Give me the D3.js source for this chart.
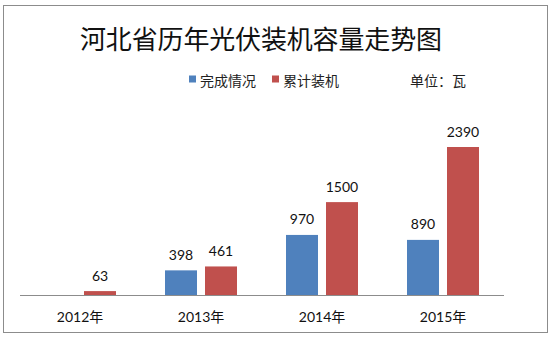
<!DOCTYPE html>
<html><head><meta charset="utf-8">
<script src="https://cdn.jsdelivr.net/npm/d3@7"></script>
<style>body{margin:0;background:#fff}svg{display:block}</style>
</head><body><svg id="c" width="551" height="341"></svg>
<script>
const years = ["2012年","2013年","2014年","2015年"];
const seriesNames = ["完成情况","累计装机"];
const completed = [null, 398, 970, 890];
const cumulative = [63, 461, 1500, 2390];
const colors = ["#4F81BD","#C0504D"];
const title = "河北省历年光伏装机容量走势图";
const unitText = "单位：瓦";

const svg = d3.select("#c");
const cjk = "'Noto Sans CJK SC','Noto Sans',sans-serif";
const num = "Lato,'Noto Sans CJK SC',sans-serif";

svg.append("rect").attr("x",3.5).attr("y",5.5).attr("width",544).attr("height",327)
  .attr("fill","#fff").attr("stroke","#8c8c8c").attr("stroke-width",1);

const t = svg.append("text").attr("x",80).attr("y",37)
  .attr("dominant-baseline","central").attr("font-family",cjk).attr("font-size",26)
  .attr("fill","#111").text(title);
t.attr("textLength",362).attr("lengthAdjust","spacing");

const x0 = d3.scaleBand().domain(years).range([19.5,503.5]);
const x1 = d3.scaleBand().domain(seriesNames).range([24.5,96.5]).paddingInner(0.2);
const y = d3.scaleLinear().domain([0,2390]).range([295,147]);

const data = years.map((yr,i)=>({yr, vals:[completed[i],cumulative[i]]}));
const g = svg.append("g");
data.forEach(d=>{
  d.vals.forEach((v,j)=>{
    if(v==null) return;
    const bx = x0(d.yr)+x1(seriesNames[j]);
    g.append("rect").attr("x",bx).attr("y",y(v)).attr("width",x1.bandwidth())
      .attr("height",y(0)-y(v)).attr("fill",colors[j]);
    g.append("text").attr("x",bx+x1.bandwidth()/2).attr("y",y(v)-16)
      .attr("text-anchor","middle").attr("dominant-baseline","central")
      .attr("font-family",num).attr("font-size",14).attr("fill","#111").text(v);
  });
});

const axis = d3.axisBottom(x0).tickSize(0).tickPadding(0);
const ax = svg.append("g").attr("transform",`translate(0,${y(0)})`).call(axis);
ax.select(".domain").attr("stroke","#8c8c8c");
ax.selectAll("text").attr("dy",null).attr("y",21).attr("dominant-baseline","central")
  .attr("font-family",num).attr("font-size",14).attr("fill","#111");

// legend
const leg = [{x:189,t:seriesNames[0],c:colors[0]},{x:272,t:seriesNames[1],c:colors[1]}];
leg.forEach(l=>{
  svg.append("rect").attr("x",l.x).attr("y",75.5).attr("width",7).attr("height",7).attr("fill",l.c);
  svg.append("text").attr("x",l.x+11).attr("y",79.5).attr("dominant-baseline","central")
    .attr("font-family",cjk).attr("font-size",14).attr("fill","#222").text(l.t);
});
svg.append("text").attr("x",410).attr("y",79.5).attr("dominant-baseline","central")
  .attr("font-family",cjk).attr("font-size",14).attr("fill","#222").text(unitText);
</script></body></html>
